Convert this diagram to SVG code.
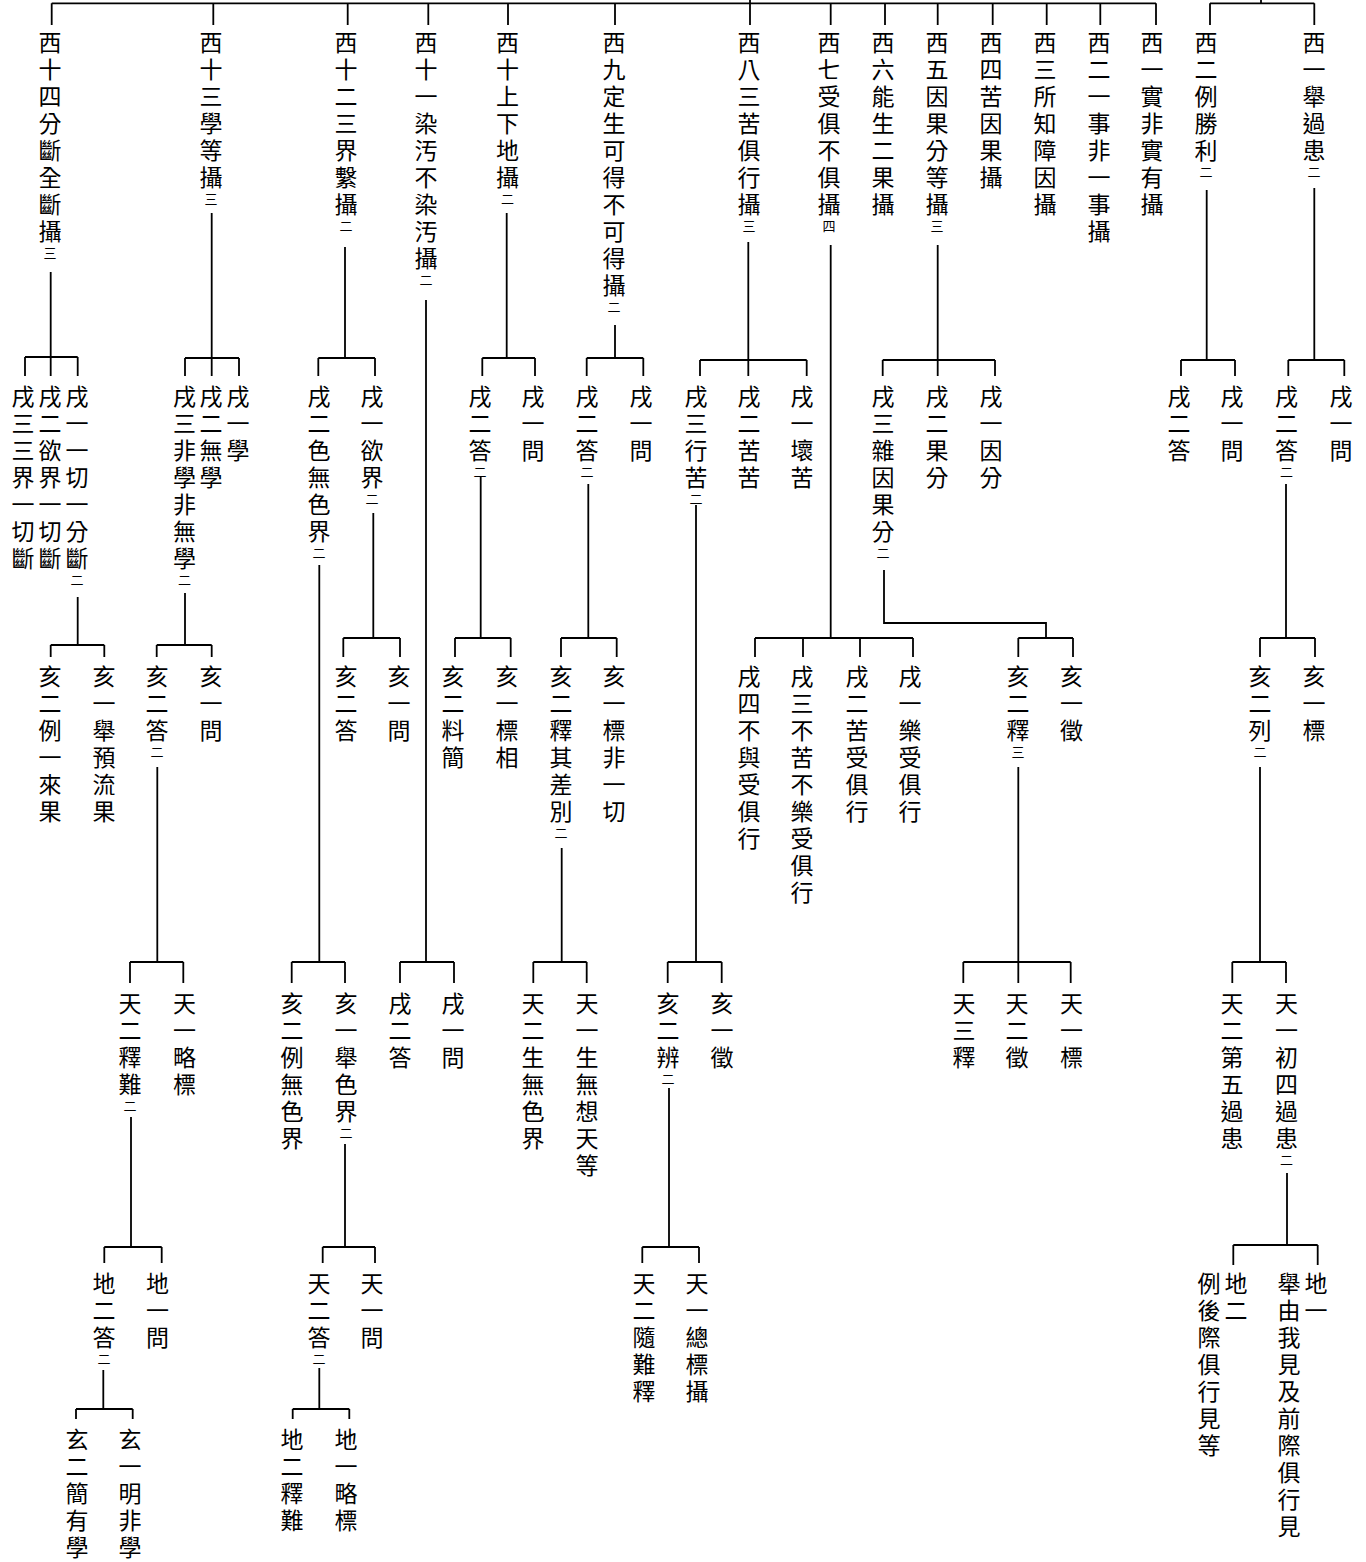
<svg xmlns="http://www.w3.org/2000/svg" width="1366" height="1562" viewBox="0 0 1366 1562">
<style>
.t{font-family:'Noto Sans CJK TC','Noto Sans CJK JP',sans-serif;font-size:23px;font-weight:400;writing-mode:vertical-rl;letter-spacing:4px;fill:#000}
.s{font-size:13px}
#connectors path{fill:none;stroke:#000;stroke-width:1.8}
</style>
<rect width="1366" height="1562" fill="#fff"/>
<g id="connectors">
<path d="M51.7 3.3H1156M750 0V3.3M51.7 3.3V25M213.3 3.3V25M347.7 3.3V25M428.3 3.3V25M508 3.3V25M615 3.3V25M750 3.3V25M830.7 3.3V25M885 3.3V25M937.7 3.3V25M992.7 3.3V25M1046.7 3.3V25M1100.3 3.3V25M1156 3.3V25"/>
<path d="M1210 3.3H1314.3M1261 0V3.3M1210 3.3V25M1314.3 3.3V25"/>
<path d="M50.7 272V357M25 357H77.7M25 357V376M50.7 357V376M77.7 357V376"/>
<path d="M211.7 213V358M185 358H239M185 358V376M211.7 358V376M239 358V376"/>
<path d="M345 247V358M318.3 358H375M318.3 358V376M375 358V376"/>
<path d="M426 300V962M400 962H454M400 962V983M454 962V983"/>
<path d="M506.7 213V358M482.3 358H535M482.3 358V376M535 358V376"/>
<path d="M615 325V358M586.7 358H643.3M586.7 358V376M643.3 358V376"/>
<path d="M748.3 242V360M700 360H806.7M700 360V376M748.3 360V376M806.7 360V376"/>
<path d="M830.7 245V638M755 638H913M755 638V657M803 638V657M860 638V657M913 638V657"/>
<path d="M937.7 245V360M882.7 360H995M882.7 360V376M937.7 360V376M995 360V376"/>
<path d="M1206.7 190V360M1181 360H1235M1181 360V376M1235 360V376"/>
<path d="M1314.3 188V360M1288.3 360H1344.3M1288.3 360V376M1344.3 360V376"/>
<path d="M77.7 597V645M50.7 645H104.3M50.7 645V657M104.3 645V657"/>
<path d="M185 593V645M156.7 645H211.7M156.7 645V657M211.7 645V657"/>
<path d="M319.3 565V962M291.7 962H345M291.7 962V983M345 962V983"/>
<path d="M373.3 513V638M343.3 638H400M343.3 638V657M400 638V657"/>
<path d="M480.7 477V638M455 638H510.7M455 638V657M510.7 638V657"/>
<path d="M588.3 484V638M561 638H616.7M561 638V657M616.7 638V657"/>
<path d="M696 505V962M667.7 962H721.7M667.7 962V983M721.7 962V983"/>
<path d="M884 570V623H1046V638M1018.3 638H1073M1018.3 638V657M1073 638V657"/>
<path d="M1286 484V638M1260 638H1315M1260 638V657M1315 638V657"/>
<path d="M157.3 767V962M130 962H183.3M130 962V983M183.3 962V983"/>
<path d="M561.7 848V962M533.3 962H586.7M533.3 962V983M586.7 962V983"/>
<path d="M1018.3 767V962M963.3 962H1070.7M963.3 962V983M1018.3 962V983M1070.7 962V983"/>
<path d="M1260 767V962M1232.3 962H1286M1232.3 962V983M1286 962V983"/>
<path d="M131 1117V1247M104.3 1247H161.7M104.3 1247V1263M161.7 1247V1263"/>
<path d="M345 1144V1247M322.7 1247H375M322.7 1247V1263M375 1247V1263"/>
<path d="M669 1088V1247M642.3 1247H699M642.3 1247V1263M699 1247V1263"/>
<path d="M1287 1173V1245M1233.3 1245H1317.7M1233.3 1245V1265M1317.7 1245V1265"/>
<path d="M103.3 1370V1409M76 1409H132.7M76 1409V1419M132.7 1409V1419"/>
<path d="M319.3 1368V1409M292.7 1409H349.3M292.7 1409V1419M349.3 1409V1419"/>
</g>
<g id="n1"><text class="t" x="50" y="31">西十四分斷全斷攝<tspan class="s">三</tspan></text></g>
<g id="n2"><text class="t" x="211" y="31">西十三學等攝<tspan class="s">三</tspan></text></g>
<g id="n3"><text class="t" x="346" y="31">西十二三界繫攝<tspan class="s">二</tspan></text></g>
<g id="n4"><text class="t" x="426" y="31">西十一染汚不染汚攝<tspan class="s">二</tspan></text></g>
<g id="n5"><text class="t" x="507.5" y="31">西十上下地攝<tspan class="s">二</tspan></text></g>
<g id="n6"><text class="t" x="614" y="31">西九定生可得不可得攝<tspan class="s">二</tspan></text></g>
<g id="n7"><text class="t" x="749" y="31">西八三苦俱行攝<tspan class="s">三</tspan></text></g>
<g id="n8"><text class="t" x="829" y="31">西七受俱不俱攝<tspan class="s">四</tspan></text></g>
<g id="n9"><text class="t" x="883" y="31">西六能生二果攝</text></g>
<g id="n10"><text class="t" x="937" y="31">西五因果分等攝<tspan class="s">三</tspan></text></g>
<g id="n11"><text class="t" x="991" y="31">西四苦因果攝</text></g>
<g id="n12"><text class="t" x="1045" y="31">西三所知障因攝</text></g>
<g id="n13"><text class="t" x="1099" y="31">西二一事非一事攝</text></g>
<g id="n14"><text class="t" x="1152" y="31">西一實非實有攝</text></g>
<g id="n15"><text class="t" x="1206" y="31">西二例勝利<tspan class="s">二</tspan></text></g>
<g id="n16"><text class="t" x="1314" y="31">西一舉過患<tspan class="s">二</tspan></text></g>
<g id="r2a"><text class="t" x="23" y="385">戌三三界一切斷</text></g>
<g id="r2b"><text class="t" x="50" y="385">戌二欲界一切斷</text></g>
<g id="r2c"><text class="t" x="77" y="385">戌一一切一分斷<tspan class="s">二</tspan></text></g>
<g id="r2d"><text class="t" x="184.5" y="385">戌三非學非無學<tspan class="s">二</tspan></text></g>
<g id="r2e"><text class="t" x="211" y="385">戌二無學</text></g>
<g id="r2f"><text class="t" x="238" y="385">戌一學</text></g>
<g id="r2g"><text class="t" x="319" y="385">戌二色無色界<tspan class="s">二</tspan></text></g>
<g id="r2h"><text class="t" x="372" y="385">戌一欲界<tspan class="s">二</tspan></text></g>
<g id="r2i"><text class="t" x="400" y="992">戌二答</text></g>
<g id="r2j"><text class="t" x="453" y="992">戌一問</text></g>
<g id="r2k"><text class="t" x="480" y="385">戌二答<tspan class="s">二</tspan></text></g>
<g id="r2l"><text class="t" x="533" y="385">戌一問</text></g>
<g id="r2m"><text class="t" x="587" y="385">戌二答<tspan class="s">二</tspan></text></g>
<g id="r2n"><text class="t" x="641" y="385">戌一問</text></g>
<g id="r2o"><text class="t" x="696" y="385">戌三行苦<tspan class="s">二</tspan></text></g>
<g id="r2p"><text class="t" x="749" y="385">戌二苦苦</text></g>
<g id="r2q"><text class="t" x="802" y="385">戌一壞苦</text></g>
<g id="r2r"><text class="t" x="749" y="665">戌四不與受俱行</text></g>
<g id="r2s"><text class="t" x="802" y="665">戌三不苦不樂受俱行</text></g>
<g id="r2t"><text class="t" x="857" y="665">戌二苦受俱行</text></g>
<g id="r2u"><text class="t" x="910" y="665">戌一樂受俱行</text></g>
<g id="r2v"><text class="t" x="883" y="385">戌三雜因果分<tspan class="s">二</tspan></text></g>
<g id="r2w"><text class="t" x="937" y="385">戌二果分</text></g>
<g id="r2x"><text class="t" x="991" y="385">戌一因分</text></g>
<g id="r2y"><text class="t" x="1179" y="385">戌二答</text></g>
<g id="r2z"><text class="t" x="1232" y="385">戌一問</text></g>
<g id="r2aa"><text class="t" x="1286.5" y="385">戌二答<tspan class="s">二</tspan></text></g>
<g id="r2ab"><text class="t" x="1341" y="385">戌一問</text></g>
<g id="r3a"><text class="t" x="50" y="665">亥二例一來果</text></g>
<g id="r3b"><text class="t" x="104" y="665">亥一舉預流果</text></g>
<g id="r3c"><text class="t" x="157" y="665">亥二答<tspan class="s">二</tspan></text></g>
<g id="r3d"><text class="t" x="211" y="665">亥一問</text></g>
<g id="r3e"><text class="t" x="292" y="992">亥二例無色界</text></g>
<g id="r3f"><text class="t" x="346" y="992">亥一舉色界<tspan class="s">二</tspan></text></g>
<g id="r3g"><text class="t" x="346" y="665">亥二答</text></g>
<g id="r3h"><text class="t" x="399" y="665">亥一問</text></g>
<g id="r3i"><text class="t" x="453" y="665">亥二料簡</text></g>
<g id="r3j"><text class="t" x="507" y="665">亥一標相</text></g>
<g id="r3k"><text class="t" x="561" y="665">亥二釋其差別<tspan class="s">二</tspan></text></g>
<g id="r3l"><text class="t" x="614" y="665">亥一標非一切</text></g>
<g id="r3m"><text class="t" x="668" y="992">亥二辨<tspan class="s">二</tspan></text></g>
<g id="r3n"><text class="t" x="722" y="992">亥一徵</text></g>
<g id="r3o"><text class="t" x="1018" y="665">亥二釋<tspan class="s">三</tspan></text></g>
<g id="r3p"><text class="t" x="1071.5" y="665">亥一徵</text></g>
<g id="r3q"><text class="t" x="1260" y="665">亥二列<tspan class="s">二</tspan></text></g>
<g id="r3r"><text class="t" x="1314" y="665">亥一標</text></g>
<g id="r4a"><text class="t" x="130" y="992">天二釋難<tspan class="s">二</tspan></text></g>
<g id="r4b"><text class="t" x="184.5" y="992">天一略標</text></g>
<g id="r4c"><text class="t" x="533" y="992">天二生無色界</text></g>
<g id="r4d"><text class="t" x="587" y="992">天一生無想天等</text></g>
<g id="r4e"><text class="t" x="964" y="992">天三釋</text></g>
<g id="r4f"><text class="t" x="1017" y="992">天二徵</text></g>
<g id="r4g"><text class="t" x="1071.5" y="992">天一標</text></g>
<g id="r4h"><text class="t" x="1232" y="992">天二第五過患</text></g>
<g id="r4i"><text class="t" x="1286.5" y="992">天一初四過患<tspan class="s">二</tspan></text></g>
<g id="r5a"><text class="t" x="104" y="1272">地二答<tspan class="s">二</tspan></text></g>
<g id="r5b"><text class="t" x="157.5" y="1272">地一問</text></g>
<g id="r5c"><text class="t" x="319" y="1272">天二答<tspan class="s">二</tspan></text></g>
<g id="r5d"><text class="t" x="372" y="1272">天一問</text></g>
<g id="r5e"><text class="t" x="644" y="1272">天二隨難釋</text></g>
<g id="r5f"><text class="t" x="697" y="1272">天一總標攝</text></g>
<g id="r5g"><text class="t" x="1236" y="1272">地二</text><text class="t" x="1209" y="1272">例後際俱行見等</text></g>
<g id="r5h"><text class="t" x="1316" y="1272">地一</text><text class="t" x="1289" y="1272">舉由我見及前際俱行見</text></g>
<g id="r6a"><text class="t" x="77" y="1428">玄二簡有學</text></g>
<g id="r6b"><text class="t" x="130" y="1428">玄一明非學</text></g>
<g id="r6c"><text class="t" x="292" y="1428">地二釋難</text></g>
<g id="r6d"><text class="t" x="346" y="1428">地一略標</text></g>
</svg>
